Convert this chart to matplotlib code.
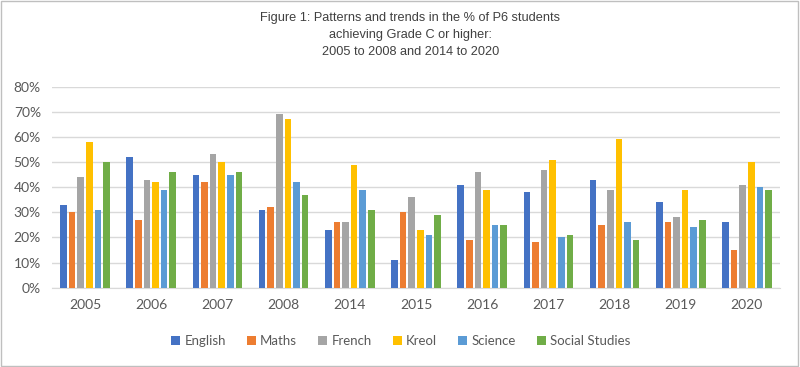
import matplotlib
matplotlib.use("Agg")
import matplotlib.pyplot as plt
import numpy as np
from matplotlib.patches import Rectangle
from matplotlib.ticker import FuncFormatter

years = ["2005", "2006", "2007", "2008", "2014", "2015", "2016", "2017", "2018", "2019", "2020"]
subjects = ["English", "Maths", "French", "Kreol", "Science", "Social Studies"]

english = [33, 52, 45, 31, 23, 11, 41, 38, 43, 34, 26]
maths = [30, 27, 42, 32, 26, 30, 19, 18, 25, 26, 15]
french = [44, 43, 53, 69, 26, 36, 46, 47, 39, 28, 41]
kreol = [58, 42, 50, 67, 49, 23, 39, 51, 59, 39, 50]
science = [31, 39, 45, 42, 39, 21, 25, 20, 26, 24, 40]
social = [50, 46, 46, 37, 31, 29, 25, 21, 19, 27, 39]

series = [english, maths, french, kreol, science, social]
colors = ["#4472C4", "#ED7D31", "#A5A5A5", "#FFC000", "#5B9BD5", "#70AD47"]

fig = plt.figure(figsize=(8, 3.67), dpi=100)
ax = fig.add_axes([0.065, 0.216, 0.91, 0.548])

x = np.arange(len(years))
pitch = 0.13
width = 0.10
for i, (vals, name, c) in enumerate(zip(series, subjects, colors)):
    ax.bar(x + (i - 2.5) * pitch, np.array(vals) / 100, width=width, color=c, label=name, zorder=3)

ax.set_xlim(-0.5, len(years) - 0.5)
ax.set_ylim(0, 0.8)
ax.set_yticks(np.arange(0, 0.81, 0.1))
ax.yaxis.set_major_formatter(FuncFormatter(lambda v, p: f"{v*100:.0f}%"))
ax.set_xticks(x)
ax.set_xticklabels(years)
ax.grid(axis="y", color="#D9D9D9", linewidth=1, zorder=0)
for s in ["top", "right", "left"]:
    ax.spines[s].set_visible(False)
ax.spines["bottom"].set_color("#D9D9D9")
ax.tick_params(length=0, labelsize=10, labelcolor="#595959", pad=8)
for t in ax.get_xticklabels() + ax.get_yticklabels():
    t.set_fontfamily("Lato")

fig.text(0.513, 0.968, "Figure 1: Patterns and trends in the % of P6 students\nachieving Grade C or higher:\n2005 to 2008 and 2014 to 2020",
         ha="center", va="top", fontsize=9.2, color="#404040", family="Liberation Sans", linespacing=1.55)

leg = fig.legend(loc="center", bbox_to_anchor=(0.501, 0.07), ncol=6, frameon=False,
                 handlelength=0.7, handleheight=0.7, handletextpad=0.3, columnspacing=1.6,
                 prop={"family": "Lato", "size": 9.5})
for t in leg.get_texts():
    t.set_color("#595959")

fig.patches.append(Rectangle((0.001, 0.002), 0.997, 0.995, transform=fig.transFigure,
                             fill=False, edgecolor="#BFBFBF", linewidth=1))

fig.savefig("out.png", dpi=100)
